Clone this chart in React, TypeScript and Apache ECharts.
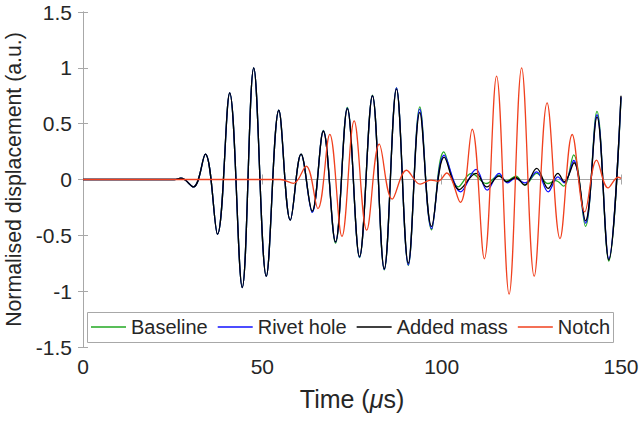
import React, { useEffect, useRef } from "react";
import * as echarts from "echarts";

const xTicks = { min: 0, max: 150, interval: 50 };
const yTicks = { min: -1.5, max: 1.5, interval: 0.5 };

const seriesNames = ["Baseline", "Rivet hole", "Added mass", "Notch"];

const baselineData: number[][] = [
  [0, 0], [25.5, 0], [27.3, 0.012], [30.8, -0.066], [34.1, 0.227], [37.5, -0.49], [40.9, 0.775],
  [44.4, -0.967], [47.6, 1.0], [51.1, -0.866], [54.6, 0.62], [57.8, -0.364], [60.8, 0.227],
  [63.9, -0.29], [67.0, 0.44], [70.4, -0.57], [73.7, 0.645], [77.1, -0.7], [80.7, 0.755],
  [84.0, -0.81], [87.4, 0.82], [90.7, -0.77], [93.9, 0.65], [97.2, -0.45], [100.6, 0.247],
  [104.6, -0.066], [108.3, 0.054], [112.5, -0.036], [116.0, 0.04], [118.1, -0.015], [120.7, 0.03],
  [123.2, -0.05], [126.5, 0.054], [129.7, -0.036], [131.8, -0.01], [134.0, -0.06], [136.8, 0.22],
  [140.1, -0.42], [143.3, 0.61], [146.6, -0.73], [150, 0.73],
];

const rivetHoleData: number[][] = [
  [0, 0], [25.5, 0], [27.3, 0.012], [30.8, -0.066], [34.1, 0.227], [37.5, -0.49], [40.9, 0.775],
  [44.4, -0.967], [47.6, 1.0], [51.1, -0.866], [54.6, 0.62], [57.8, -0.364], [60.8, 0.227],
  [63.9, -0.295], [67.0, 0.435], [70.4, -0.56], [73.7, 0.64], [77.1, -0.695], [80.7, 0.75],
  [84.0, -0.805], [87.4, 0.82], [90.7, -0.765], [93.9, 0.63], [97.2, -0.44], [100.7, 0.218],
  [105.3, -0.11], [109.6, 0.09], [112.7, -0.096], [116.0, 0.054], [118.3, -0.03], [120.5, 0.01],
  [123.2, -0.03], [126.5, 0.068], [129.7, -0.11], [132.4, 0.024], [134.2, -0.03], [136.8, 0.17],
  [140.1, -0.39], [143.3, 0.58], [146.6, -0.71], [150, 0.74],
];

const addedMassData: number[][] = [
  [0, 0], [25.5, 0], [27.3, 0.012], [30.8, -0.066], [34.1, 0.227], [37.5, -0.49], [40.9, 0.775],
  [44.4, -0.967], [47.6, 1.0], [51.1, -0.866], [54.6, 0.62], [57.8, -0.364], [60.8, 0.227],
  [63.9, -0.284], [67.0, 0.432], [70.4, -0.558], [73.7, 0.635], [77.1, -0.69], [80.7, 0.75],
  [84.0, -0.8], [87.4, 0.81], [90.7, -0.75], [93.9, 0.6], [97.2, -0.42], [100.7, 0.2],
  [104.9, -0.09], [109.6, 0.054], [112.6, -0.066], [116.0, 0.03], [118.2, -0.02], [120.6, 0.018],
  [123.2, -0.05], [126.5, 0.1], [129.7, -0.08], [132.4, 0.054], [134.2, -0.02], [136.9, 0.15],
  [140.1, -0.37], [143.3, 0.56], [146.6, -0.72], [150, 0.75],
];

const notchData: number[][] = [
  [0, 0], [55, 0], [58.7, -0.035], [62.2, 0.12], [65.5, -0.26], [68.8, 0.405], [72.2, -0.51],
  [75.6, 0.525], [79.1, -0.454], [82.6, 0.316], [86.2, -0.176], [90.2, 0.083], [94.0, -0.042],
  [97.0, -0.005], [99.0, -0.015], [101.4, 0.058], [105.2, -0.205], [108.5, 0.45], [111.9, -0.71],
  [115.3, 0.925], [118.8, -1.027], [122.3, 1.0], [125.8, -0.866], [129.4, 0.686], [133.0, -0.53],
  [136.4, 0.403], [139.9, -0.29], [143.2, 0.173], [146.4, -0.075], [149.2, 0.02], [150, 0.01],
];

const seriesData = [baselineData, rivetHoleData, addedMassData, notchData];
const seriesColors = ["#22a822", "#1010ff", "#000000", "#f0401e"];

const FONT = "Liberation Sans, Arial, Helvetica, sans-serif";
const AXIS_COLOR = "#a8a8a8";
const TEXT_COLOR = "#262626";

export default function App() {
  const ref = useRef<HTMLDivElement>(null);

  useEffect(() => {
    if (!ref.current) return;
    const chart = echarts.init(ref.current, undefined, { renderer: "svg" });

    const axisCommon = {
      axisLine: { show: true, lineStyle: { color: AXIS_COLOR, width: 1 } },
      axisTick: { show: true, inside: true, length: 5, lineStyle: { color: AXIS_COLOR } },
      splitLine: { show: false },
    };

    chart.setOption({
      animation: false,
      backgroundColor: "#ffffff",
      textStyle: { fontFamily: FONT },
      grid: { left: 83, right: 21, top: 12, bottom: 75, containLabel: false, outerBoundsMode: "none" },
      graphic: [
        {
          type: "rect",
          left: 87,
          top: 312,
          shape: { width: 526, height: 30 },
          style: { fill: "#ffffff", stroke: AXIS_COLOR, lineWidth: 1 },
          z: 10,
        },
      ],
      legend: {
        data: seriesNames.map((name) => ({ name, icon: "rect" })),
        left: 91,
        top: 317,
        orient: "horizontal",
        padding: 0,
        itemGap: 10,
        itemWidth: 35,
        itemHeight: 1.4,
        z: 20,
        textStyle: { fontSize: 20, color: TEXT_COLOR, fontFamily: FONT, lineHeight: 20 },
      },
      xAxis: [
        {
          type: "value",
          position: "bottom",
          ...xTicks,
          ...axisCommon,
          axisLabel: { fontSize: 21, color: TEXT_COLOR, margin: 9, fontFamily: FONT },
          name: "Time ({i|μ}s)",
          nameLocation: "middle",
          nameGap: 39,
          nameTextStyle: {
            fontSize: 25,
            color: TEXT_COLOR,
            fontFamily: FONT,
            rich: { i: { fontSize: 25, fontStyle: "italic", color: TEXT_COLOR, fontFamily: FONT } },
          },
        },
        {
          type: "value",
          position: "top",
          ...xTicks,
          ...axisCommon,
          axisLabel: { show: false },
        },
      ],
      yAxis: [
        {
          type: "value",
          position: "left",
          ...yTicks,
          ...axisCommon,
          axisLabel: { fontSize: 21, color: TEXT_COLOR, margin: 11, fontFamily: FONT },
          name: "Normalised displacement (a.u.)",
          nameLocation: "middle",
          nameGap: 50,
          nameTextStyle: { fontSize: 21.3, color: TEXT_COLOR, fontFamily: FONT },
        },
        {
          type: "value",
          position: "right",
          ...yTicks,
          ...axisCommon,
          axisLabel: { show: false },
        },
      ],
      series: seriesNames.map((name, i) => ({
        name,
        type: "line",
        xAxisIndex: 0,
        yAxisIndex: 0,
        data: seriesData[i],
        smooth: 0.38,
        symbol: "none",
        showSymbol: false,
        lineStyle: { color: seriesColors[i], width: 1.3 },
        itemStyle: { color: seriesColors[i] },
        z: 2 + i,
      })),
    });

    return () => chart.dispose();
  }, []);

  return (
    <div
      ref={ref}
      style={{ position: "fixed", left: 0, top: 0, width: 642, height: 422 }}
    />
  );
}
